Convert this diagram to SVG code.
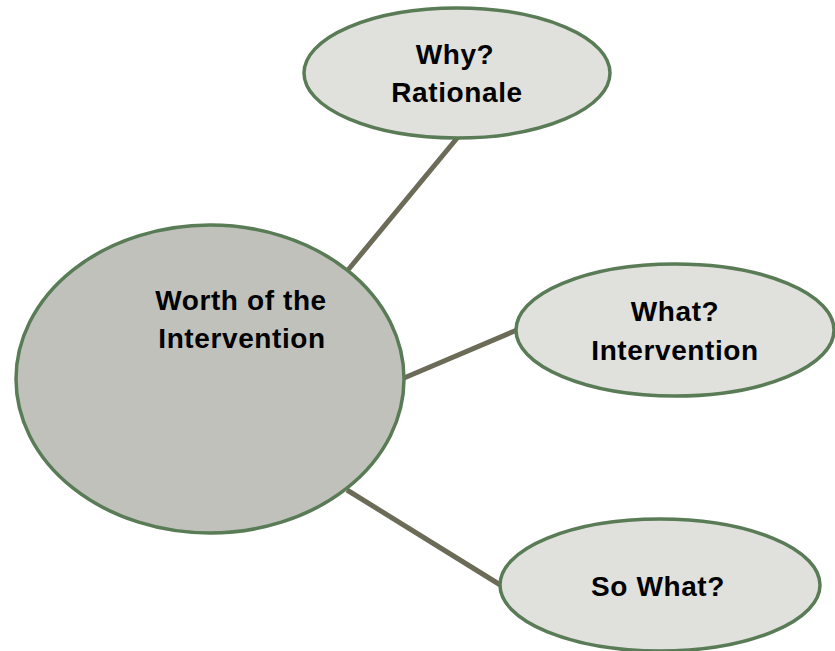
<svg xmlns="http://www.w3.org/2000/svg" width="835" height="651" viewBox="0 0 835 651">
<style>
.n{stroke:#597b56;stroke-width:3.5}
.s{fill:#e0e0dc}
.b{fill:#c0c1bb}
.c{stroke:#6b6b57;stroke-width:5;fill:none}
text{font-family:"Liberation Sans",Arial,sans-serif;font-weight:bold;font-size:28px;letter-spacing:0.6px;fill:#000;text-anchor:middle}
</style>
<rect width="835" height="651" fill="#fff"/>
<g id="connectors">
<line class="c" x1="348" y1="270" x2="458" y2="137"/>
<line class="c" x1="404" y1="378" x2="517" y2="330"/>
<line class="c" x1="347" y1="490" x2="502" y2="586"/>
</g>
<g id="worth">
<ellipse class="n b" cx="210" cy="379" rx="194" ry="154"/>
<text x="241" y="310">Worth of the</text>
<text x="242" y="348">Intervention</text>
</g>
<g id="why">
<ellipse class="n s" cx="457" cy="73" rx="153" ry="65"/>
<text x="455" y="64">Why?</text>
<text x="457" y="102">Rationale</text>
</g>
<g id="what">
<ellipse class="n s" cx="675" cy="330" rx="159" ry="66"/>
<text x="675" y="321">What?</text>
<text x="675" y="360">Intervention</text>
</g>
<g id="sowhat">
<ellipse class="n s" cx="660" cy="585" rx="160" ry="66"/>
<text x="658" y="596">So What?</text>
</g>
</svg>
